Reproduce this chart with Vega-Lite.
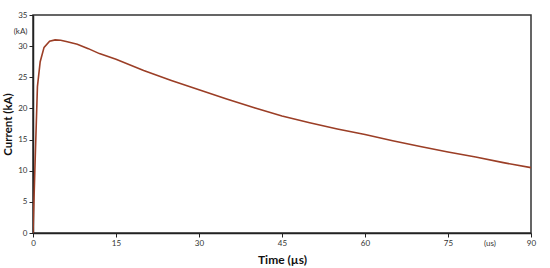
{
  "$schema": "https://vega.github.io/schema/vega-lite/v6.json",
  "autosize": {"type": "none"},
  "width": 498,
  "height": 218,
  "padding": {"left": 33, "top": 15, "right": 19, "bottom": 35},
  "background": "white",
  "config": {
    "view": {"stroke": "#333333", "strokeWidth": 1.5},
    "font": "Lato"
  },
  "data": {
    "values": [
      {"t": 0, "i": 0},
      {"t": 0.4, "i": 12},
      {"t": 0.8, "i": 23.5},
      {"t": 1.3, "i": 27.5},
      {"t": 2, "i": 29.8},
      {"t": 3, "i": 30.8},
      {"t": 4, "i": 31.0},
      {"t": 5, "i": 30.95},
      {"t": 6, "i": 30.75},
      {"t": 8, "i": 30.3},
      {"t": 10, "i": 29.6},
      {"t": 12, "i": 28.8},
      {"t": 15, "i": 27.9},
      {"t": 20, "i": 26.1},
      {"t": 25, "i": 24.5},
      {"t": 30, "i": 23.0},
      {"t": 35, "i": 21.5},
      {"t": 40, "i": 20.1},
      {"t": 45, "i": 18.8},
      {"t": 50, "i": 17.7},
      {"t": 55, "i": 16.7},
      {"t": 60, "i": 15.8},
      {"t": 65, "i": 14.8},
      {"t": 70, "i": 13.9},
      {"t": 75, "i": 13.0},
      {"t": 80, "i": 12.2},
      {"t": 85, "i": 11.3},
      {"t": 90, "i": 10.5}
    ]
  },
  "mark": {"type": "line", "color": "#9b3e26", "strokeWidth": 1.6, "clip": true},
  "encoding": {
    "x": {
      "field": "t",
      "type": "quantitative",
      "scale": {"domain": [0, 90], "nice": false, "zero": false},
      "axis": {
        "title": "Time (µs)",
        "values": [0, 15, 30, 45, 60, 75, 82.5, 90],
        "labelExpr": "datum.value == 82.5 ? '(us)' : datum.label",
        "grid": false,
        "domainColor": "#222222",
        "domainWidth": 1.5,
        "tickColor": "#222222",
        "tickSize": 4,
        "tickOpacity": {"condition": {"test": "datum.value == 82.5", "value": 0}, "value": 1},
        "labelFontSize": 8,
        "labelColor": "#333333",
        "labelPadding": 2,
        "titleFontSize": 12,
        "titleFontWeight": "bold",
        "titleColor": "#111111",
        "titlePadding": 7,
        "labelFlush": false
      }
    },
    "y": {
      "field": "i",
      "type": "quantitative",
      "scale": {"domain": [0, 35], "nice": false},
      "axis": {
        "title": "Current (kA)",
        "values": [0, 5, 10, 15, 20, 25, 30, 32.4, 35],
        "labelExpr": "datum.value == 32.4 ? '(kA)' : datum.label",
        "grid": false,
        "domainColor": "#222222",
        "domainWidth": 1.5,
        "tickColor": "#222222",
        "tickSize": 4,
        "tickOpacity": {"condition": {"test": "datum.value == 32.4", "value": 0}, "value": 1},
        "labelFontSize": 8,
        "labelColor": "#333333",
        "labelPadding": 2,
        "titleFontSize": 11.5,
        "titleFontWeight": "bold",
        "titleColor": "#111111",
        "titleX": -25,
        "titleY": 109,
        "titleAngle": -90,
        "titleBaseline": "middle",
        "titleAlign": "center",
        "labelFlush": false
      }
    }
  }
}
